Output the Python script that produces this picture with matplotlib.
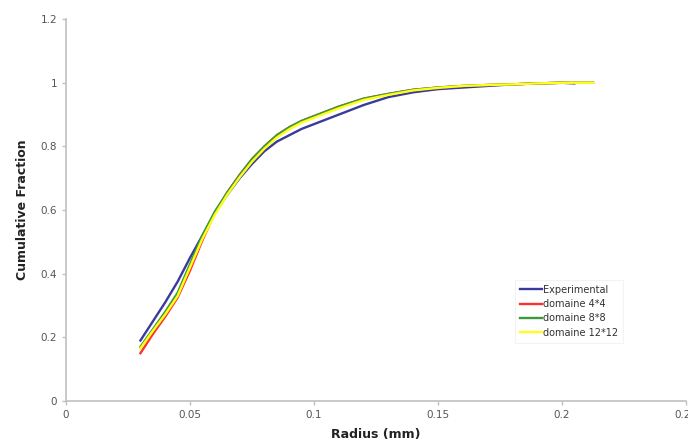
import numpy as np
import matplotlib
matplotlib.use('Agg')
import matplotlib.pyplot as plt

# Rayon (mm) et fractions cumulées
x_exp = [0.030, 0.035, 0.040, 0.045, 0.050, 0.055, 0.060, 0.065, 0.070, 0.075,
         0.080, 0.085, 0.090, 0.095, 0.100, 0.110, 0.120, 0.130, 0.140, 0.150,
         0.160, 0.170, 0.180, 0.190, 0.200, 0.205]
y_exp = [0.19, 0.25, 0.31, 0.375, 0.45, 0.52, 0.59, 0.648, 0.70, 0.745,
         0.785, 0.815, 0.835, 0.855, 0.87, 0.90, 0.93, 0.955, 0.97, 0.98,
         0.985, 0.99, 0.995, 0.998, 1.0, 0.998]

x_sim = [0.030, 0.035, 0.040, 0.045, 0.050, 0.055, 0.060, 0.065, 0.070, 0.075,
         0.080, 0.085, 0.090, 0.095, 0.100, 0.110, 0.120, 0.130, 0.140, 0.150,
         0.160, 0.170, 0.180, 0.190, 0.200, 0.2125]
y_4x4 = [0.15, 0.21, 0.265, 0.325, 0.41, 0.505, 0.59, 0.655, 0.71, 0.76,
         0.80, 0.835, 0.86, 0.88, 0.895, 0.925, 0.95, 0.965, 0.978, 0.985,
         0.99, 0.993, 0.995, 0.998, 1.0, 1.0]
y_8x8 = [0.17, 0.225, 0.28, 0.34, 0.43, 0.52, 0.595, 0.655, 0.71, 0.76,
         0.80, 0.835, 0.86, 0.88, 0.895, 0.925, 0.95, 0.965, 0.978, 0.985,
         0.99, 0.993, 0.995, 0.998, 1.0, 1.0]
y_12x12 = [0.165, 0.22, 0.272, 0.33, 0.42, 0.51, 0.585, 0.648, 0.703, 0.752,
           0.793, 0.828, 0.854, 0.875, 0.89, 0.92, 0.946, 0.962, 0.976, 0.984,
           0.99, 0.993, 0.995, 0.998, 1.0, 1.0]

fig = plt.figure(figsize=(6.88, 4.45), dpi=100)
ax = fig.add_axes([0.096, 0.099, 0.901, 0.858])

lw = 1.7
ax.plot(x_exp, y_exp, color='#3a3a9c', lw=lw, label='Experimental')
ax.plot(x_sim, y_4x4, color='#ff3030', lw=lw, label='domaine 4*4')
ax.plot(x_sim, y_8x8, color='#3c9a3c', lw=lw, label='domaine 8*8')
ax.plot(x_sim, y_12x12, color='#ffff1a', lw=lw, label='domaine 12*12')

ax.set_xlim(0, 0.25)
ax.set_ylim(0, 1.2)
ax.set_xticks([0, 0.05, 0.1, 0.15, 0.2, 0.25])
ax.set_xticklabels(['0', '0.05', '0.1', '0.15', '0.2', '0.25'])
ax.set_yticks([0, 0.2, 0.4, 0.6, 0.8, 1.0, 1.2])
ax.set_yticklabels(['0', '0.2', '0.4', '0.6', '0.8', '1', '1.2'])

for side in ['top', 'right']:
    ax.spines[side].set_visible(False)
for side in ['left', 'bottom']:
    ax.spines[side].set_color('#c0c0c0')
    ax.spines[side].set_linewidth(1.2)
ax.tick_params(colors='#c0c0c0', labelcolor='#555555', labelsize=7.5,
               length=3, width=1)

ax.set_xlabel('Radius (mm)', fontsize=9, fontweight='bold', color='#222222', labelpad=6)
ax.set_ylabel('Cumulative Fraction', fontsize=9, fontweight='bold', color='#222222', labelpad=8)

leg = ax.legend(loc='upper left', bbox_to_anchor=(510 / 688, 1 - 275 / 445),
                bbox_transform=fig.transFigure, fontsize=7, frameon=True,
                fancybox=False, handlelength=2.3, handletextpad=0.1,
                labelspacing=0.45, borderpad=0.5)
leg.get_frame().set_edgecolor('#f0f0f0')
leg.get_frame().set_linewidth(0.8)
for t in leg.get_texts():
    t.set_color('#333333')

fig.savefig('out.png', dpi=100)
